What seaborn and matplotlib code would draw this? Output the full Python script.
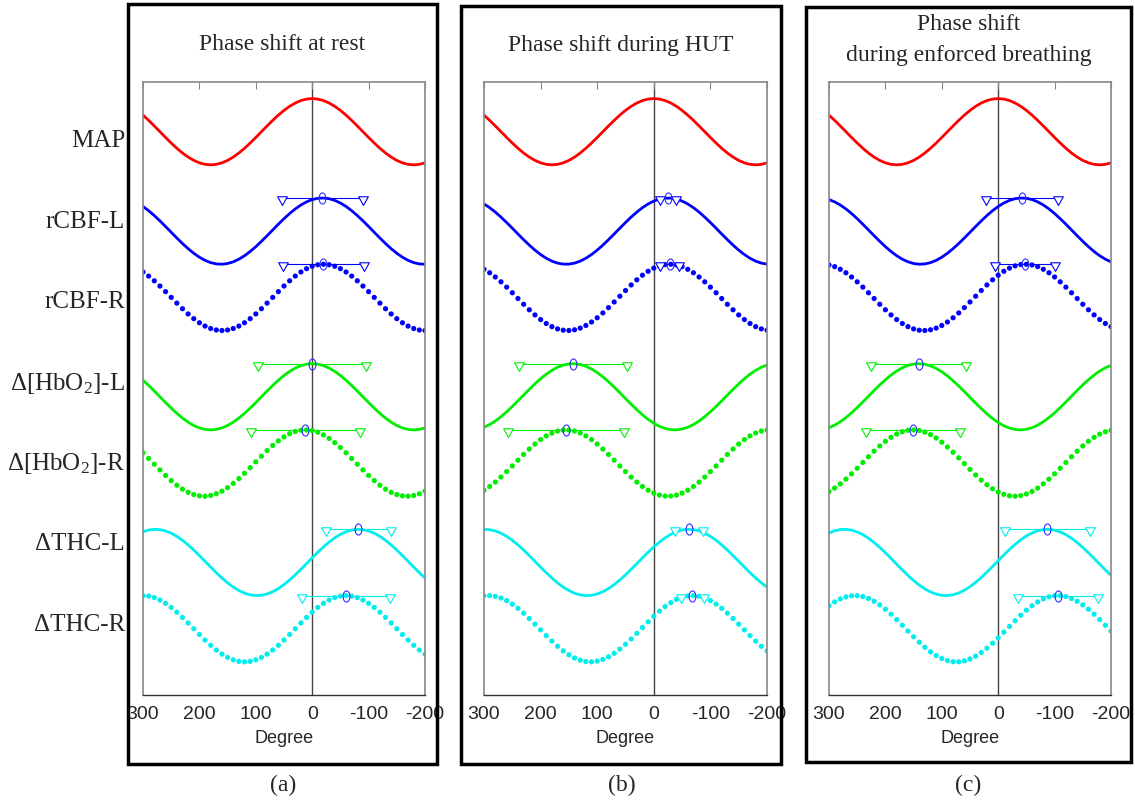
import numpy as np
import pandas as pd
import seaborn as sns
import matplotlib.pyplot as plt
from matplotlib.path import Path
from matplotlib.patches import Rectangle

# rows of every panel, top to bottom
series = ["MAP", "rCBF-L", "rCBF-R", "HbO2-L", "HbO2-R", "THC-L", "THC-R"]
row_labels = ["MAP", "rCBF-L", "rCBF-R",
              "Δ[HbO$_\\mathrm{2}$]-L", "Δ[HbO$_\\mathrm{2}$]-R",
              "ΔTHC-L", "ΔTHC-R"]

# phase shift (degree) and its spread
phase_rest = [0, -18, -20, 0, 12, -82, -60]
spread_rest = [0, 72, 72, 96, 96, 58, 78]
phase_hut = [0, -25, -28, 143, 155, -62, -68]
spread_hut = [0, 14, 17, 95, 102, 25, 20]
phase_breath = [0, -42, -48, 141, 151, -87, -106]
spread_breath = [0, 64, 53, 84, 83, 75, 71]

titles = ["Phase shift at rest", "Phase shift during HUT",
          "Phase shift\nduring enforced breathing"]
panel_tags = ["(a)", "(b)", "(c)"]
xticks = [300, 200, 100, 0, -100, -200]

# styling / layout
colors = {"MAP": "#ff0000", "rCBF-L": "#0000ff", "rCBF-R": "#0000ff",
          "HbO2-L": "#00ee00", "HbO2-R": "#00ee00",
          "THC-L": "#00eeee", "THC-R": "#00eeee"}
dotted = ["rCBF-R", "HbO2-R", "THC-R"]
offsets = [0, -3, -5, -8, -10, -13, -15]
degrees = np.arange(300, -201, -10)

sns.set_style("white")
plt.rcParams["font.family"] = ["Liberation Serif", "DejaVu Serif"]
plt.rcParams["mathtext.fontset"] = "custom"
plt.rcParams["mathtext.rm"] = "Liberation Serif"
plt.rcParams["mathtext.it"] = "Liberation Serif:italic"

W, H = 1135, 803
fig = plt.figure(figsize=(W / 100, H / 100), dpi=100)

# axes boxes and outer frames in pixels
ax_boxes = [(143, 425), (484, 767), (829, 1111)]
frames = [(128, 5, 437, 765), (461, 7, 781, 765), (806, 8, 1131, 763)]
title_y = [44, 46, 40]
tag_x = [283, 622, 968]

tri_path = Path([(-0.7, 0.25), (0.7, 0.25), (0, -1.0), (-0.7, 0.25)],
                [Path.MOVETO, Path.LINETO, Path.LINETO, Path.CLOSEPOLY])
circ = Path.unit_circle()
oval_path = Path(circ.vertices * np.array([0.62, 1.0]), circ.codes)

panels = [(phase_rest, spread_rest), (phase_hut, spread_hut),
          (phase_breath, spread_breath)]

for i, (phases, spreads) in enumerate(panels):
    x0, x1 = ax_boxes[i]
    ax = fig.add_axes([x0 / W, (H - 696) / H, (x1 - x0) / W, (696 - 83) / H])

    rows = []
    for name, ph, off in zip(series, phases, offsets):
        vals = off + np.cos(np.radians(degrees - ph))
        for d, v in zip(degrees, vals):
            rows.append({"degree": d, "value": v, "series": name})
    data = pd.DataFrame(rows)

    solid = data[~data["series"].isin(dotted)]
    dots = data[data["series"].isin(dotted)]
    sns.lineplot(data=solid, x="degree", y="value", hue="series",
                 palette=colors, estimator=None, sort=False,
                 linewidth=2.0, legend=False, ax=ax)
    sns.scatterplot(data=dots, x="degree", y="value", hue="series",
                    palette=colors, s=14, linewidth=0, legend=False, ax=ax)

    ax.axvline(0, color="#444444", lw=1.0, zorder=0)

    # phase marker with spread
    for name, ph, sd, off in zip(series, phases, spreads, offsets):
        if sd == 0:
            continue
        c = colors[name]
        yy = off + 1
        ax.plot([ph + sd, ph - sd], [yy, yy], color=c, lw=0.8, zorder=4)
        ax.plot([ph + sd, ph - sd], [yy, yy], ls="none", marker=tri_path,
                ms=10, mfc="white", mec=c, mew=0.8, zorder=5)
        ax.plot([ph], [yy], ls="none", marker=oval_path, ms=8,
                mfc="none", mec="#3030ff", mew=0.8, zorder=6)

    ax.set_xlim(300, -200)
    ax.set_ylim(-17, 1.5)
    ax.set_xticks(xticks)
    ax.set_xticklabels([str(t) for t in xticks], family="Liberation Sans",
                       fontsize=14)
    ax.set_yticks([])
    ax.tick_params(axis="x", direction="in", top=True, length=5,
                   color="#888888", pad=7)
    ax.set_xlabel("Degree", family="Liberation Sans", fontsize=13, labelpad=5)
    ax.set_ylabel("")
    for side in ["left", "right", "top"]:
        ax.spines[side].set_color("#888888")
        ax.spines[side].set_linewidth(1.2)
    ax.spines["bottom"].set_color("#333333")
    ax.spines["bottom"].set_linewidth(1.0)

    if i == 0:
        for k, lab in enumerate(row_labels):
            fig.text(125 / W, 1 - (141 + 80.7 * k) / H, lab,
                     ha="right", va="center", fontsize=18)

    fx0, fy0, fx1, fy1 = frames[i]
    fig.add_artist(Rectangle((fx0 / W, 1 - fy1 / H), (fx1 - fx0) / W,
                             (fy1 - fy0) / H, transform=fig.transFigure,
                             fill=False, edgecolor="black", linewidth=2.5))

    fig.text((fx0 + fx1) / 2 / W, 1 - title_y[i] / H, titles[i],
             ha="center", va="center", fontsize=17, linespacing=1.6)
    fig.text(tag_x[i] / W, 1 - 785 / H, panel_tags[i],
             ha="center", va="center", fontsize=17)

fig.savefig("out.png", dpi=100)
